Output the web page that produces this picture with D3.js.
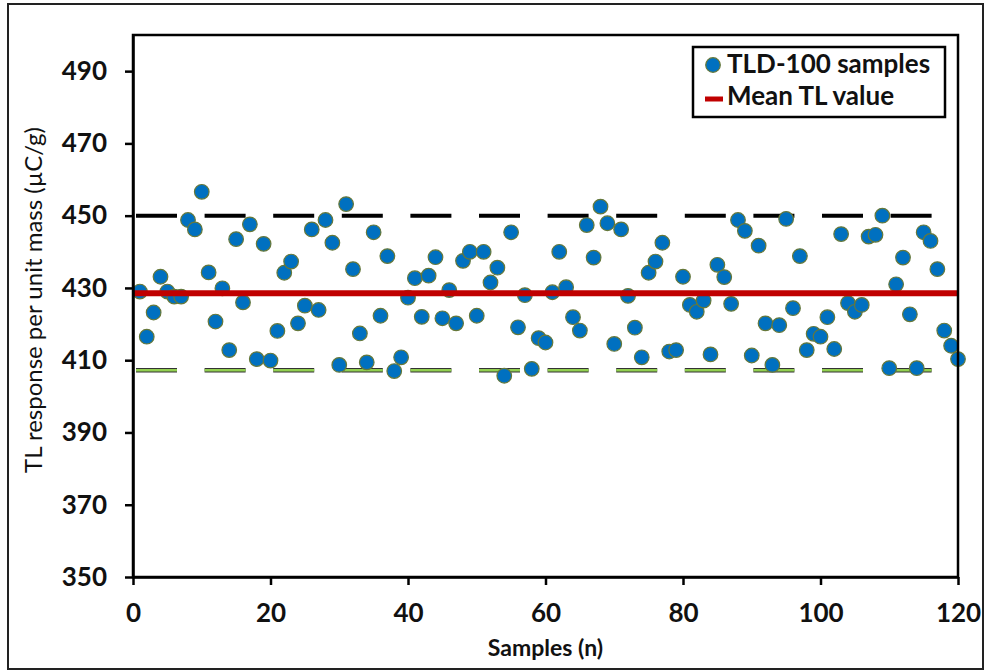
<!DOCTYPE html>
<html>
<head>
<meta charset="utf-8">
<script src="https://cdn.jsdelivr.net/npm/d3@7"></script>
<style>
  body { margin: 0; background: #fff; }
  svg { display: block; font-family: Lato, "Open Sans", sans-serif; }
</style>
</head>
<body>
<svg id="chart"></svg>
<script>
const margin = { left: 133, right: 30, top: 35, bottom: 95 };
const w = 988, h = 672;

// TL readings of the 120 TLD-100 chips, sample 1 to 120
const tlValues = [
  429.0, 416.5, 423.2, 433.1, 429.0, 427.6, 427.6, 448.8, 446.2, 456.6,
  434.3, 420.7, 429.9, 412.8, 443.5, 426.0, 447.6, 410.3, 442.2, 409.9,
  418.1, 434.2, 437.3, 420.2, 425.1, 446.2, 423.9, 448.8, 442.5, 408.7,
  453.2, 435.2, 417.4, 409.4, 445.4, 422.3, 438.8, 407.0, 410.8, 427.3,
  432.7, 422.0, 433.4, 438.5, 421.6, 429.4, 420.2, 437.5, 440.0, 422.3,
  440.0, 431.5, 435.6, 405.7, 445.4, 419.1, 428.0, 407.6, 416.1, 414.9,
  428.8, 440.0, 430.2, 421.9, 418.2, 447.4, 438.4, 452.5, 447.9, 414.5,
  446.2, 427.8, 419.0, 410.8, 434.2, 437.3, 442.5, 412.4, 412.8, 433.1,
  425.3, 423.4, 426.5, 411.6, 436.4, 433.0, 425.6, 448.8, 445.8, 411.3,
  441.7, 420.2, 408.7, 419.7, 449.1, 424.4, 438.8, 412.8, 417.3, 416.5,
  421.9, 413.1, 444.9, 425.8, 423.4, 425.3, 444.2, 444.7, 450.0, 407.8,
  431.0, 438.4, 422.7, 407.8, 445.4, 443.0, 435.2, 418.2, 414.0, 410.3
];
const meanTL = 428.5;
const upperLimit = 450;
const lowerLimit = 407.2;

const xTicks = [0, 20, 40, 60, 80, 100, 120];
const yTicks = [350, 370, 390, 410, 430, 450, 470, 490];
const xDomain = [0, 120];
const yDomain = [350, 500];

const legendItems = ['TLD-100 samples', 'Mean TL value'];

const samples = tlValues.map((v, i) => ({ n: i + 1, v: v }));

const chart = d3.select('#chart').attr('width', w).attr('height', h);

// outer frame
chart.append('rect')
  .attr('x', 8).attr('y', 4)
  .attr('width', w - 13).attr('height', h - 7)
  .attr('fill', 'none')
  .attr('stroke', '#222')
  .attr('stroke-width', 2);

const xScale = d3.scaleLinear().domain(xDomain).range([margin.left, w - margin.right]);
const yScale = d3.scaleLinear().domain(yDomain).range([h - margin.bottom, margin.top]);

// reference lines (limits), excel style long dash
const refLine = (val, color, width) => chart.append('line')
  .attr('x1', xScale(xDomain[0])).attr('x2', xScale(xDomain[1]))
  .attr('y1', yScale(val)).attr('y2', yScale(val))
  .attr('stroke', color)
  .attr('stroke-width', width)
  .attr('stroke-dasharray', '41 27.6')
  .attr('stroke-dashoffset', -3);

refLine(upperLimit, '#000', 4);
refLine(lowerLimit, '#333', 4.5);
refLine(lowerLimit, '#92d050', 2.5);

// sample dots
chart.selectAll('.dot')
  .data(samples)
  .enter()
  .append('circle')
  .attr('class', 'dot')
  .attr('cx', d => xScale(d.n))
  .attr('cy', d => yScale(d.v))
  .attr('r', 7.3)
  .style('fill', '#0070c0')
  .style('stroke', '#66783a')
  .style('stroke-width', 1.2);

// mean line
chart.append('line')
  .attr('x1', xScale(xDomain[0])).attr('x2', xScale(xDomain[1]))
  .attr('y1', yScale(meanTL)).attr('y2', yScale(meanTL))
  .attr('stroke', '#c00000')
  .attr('stroke-width', 6);

// plot border
chart.append('rect')
  .attr('x', margin.left).attr('y', margin.top)
  .attr('width', w - margin.left - margin.right)
  .attr('height', h - margin.top - margin.bottom)
  .attr('fill', 'none')
  .attr('stroke', '#000')
  .attr('stroke-width', 2.5);

const xAxis = chart.append('g')
  .attr('transform', `translate(0, ${h - margin.bottom})`)
  .call(d3.axisBottom(xScale).tickValues(xTicks).tickSize(8).tickSizeOuter(0).tickPadding(19));

const yAxis = chart.append('g')
  .attr('transform', `translate(${margin.left}, 0)`)
  .call(d3.axisLeft(yScale).tickValues(yTicks).tickSize(8).tickSizeOuter(0).tickPadding(18));

[xAxis, yAxis].forEach(ax => {
  ax.selectAll('path, line').attr('stroke', '#000').attr('stroke-width', 2.5);
  ax.selectAll('text')
    .attr('fill', '#111')
    .attr('font-family', 'Lato, sans-serif')
    .attr('font-weight', 'bold')
    .attr('font-size', '26px');
});

chart.append('text')
  .attr('x', (margin.left + w - margin.right) / 2)
  .attr('y', 656)
  .attr('text-anchor', 'middle')
  .attr('font-weight', 'bold')
  .attr('font-size', '23px')
  .attr('fill', '#111')
  .text('Samples (n)');

chart.append('text')
  .attr('transform', 'translate(42, 300) rotate(-90)')
  .attr('text-anchor', 'middle')
  .attr('font-size', '24px')
  .attr('fill', '#111')
  .text('TL response per unit mass (\u00b5C/g)');

// legend
const legend = chart.append('g');
legend.append('rect')
  .attr('x', 693).attr('y', 47)
  .attr('width', 252).attr('height', 70)
  .attr('fill', '#fff')
  .attr('stroke', '#000')
  .attr('stroke-width', 2.5);

legend.append('circle')
  .attr('cx', 713).attr('cy', 65).attr('r', 7.3)
  .style('fill', '#0070c0')
  .style('stroke', '#66783a')
  .style('stroke-width', 1.2);

legend.append('line')
  .attr('x1', 705).attr('x2', 723)
  .attr('y1', 99).attr('y2', 99)
  .attr('stroke', '#c00000')
  .attr('stroke-width', 5);

legend.selectAll('.legend-label')
  .data(legendItems)
  .enter()
  .append('text')
  .attr('class', 'legend-label')
  .attr('x', 727)
  .attr('y', (d, i) => 73 + i * 32)
  .attr('font-weight', 'bold')
  .attr('font-size', '26px')
  .attr('fill', '#111')
  .text(d => d);
</script>
</body>
</html>
